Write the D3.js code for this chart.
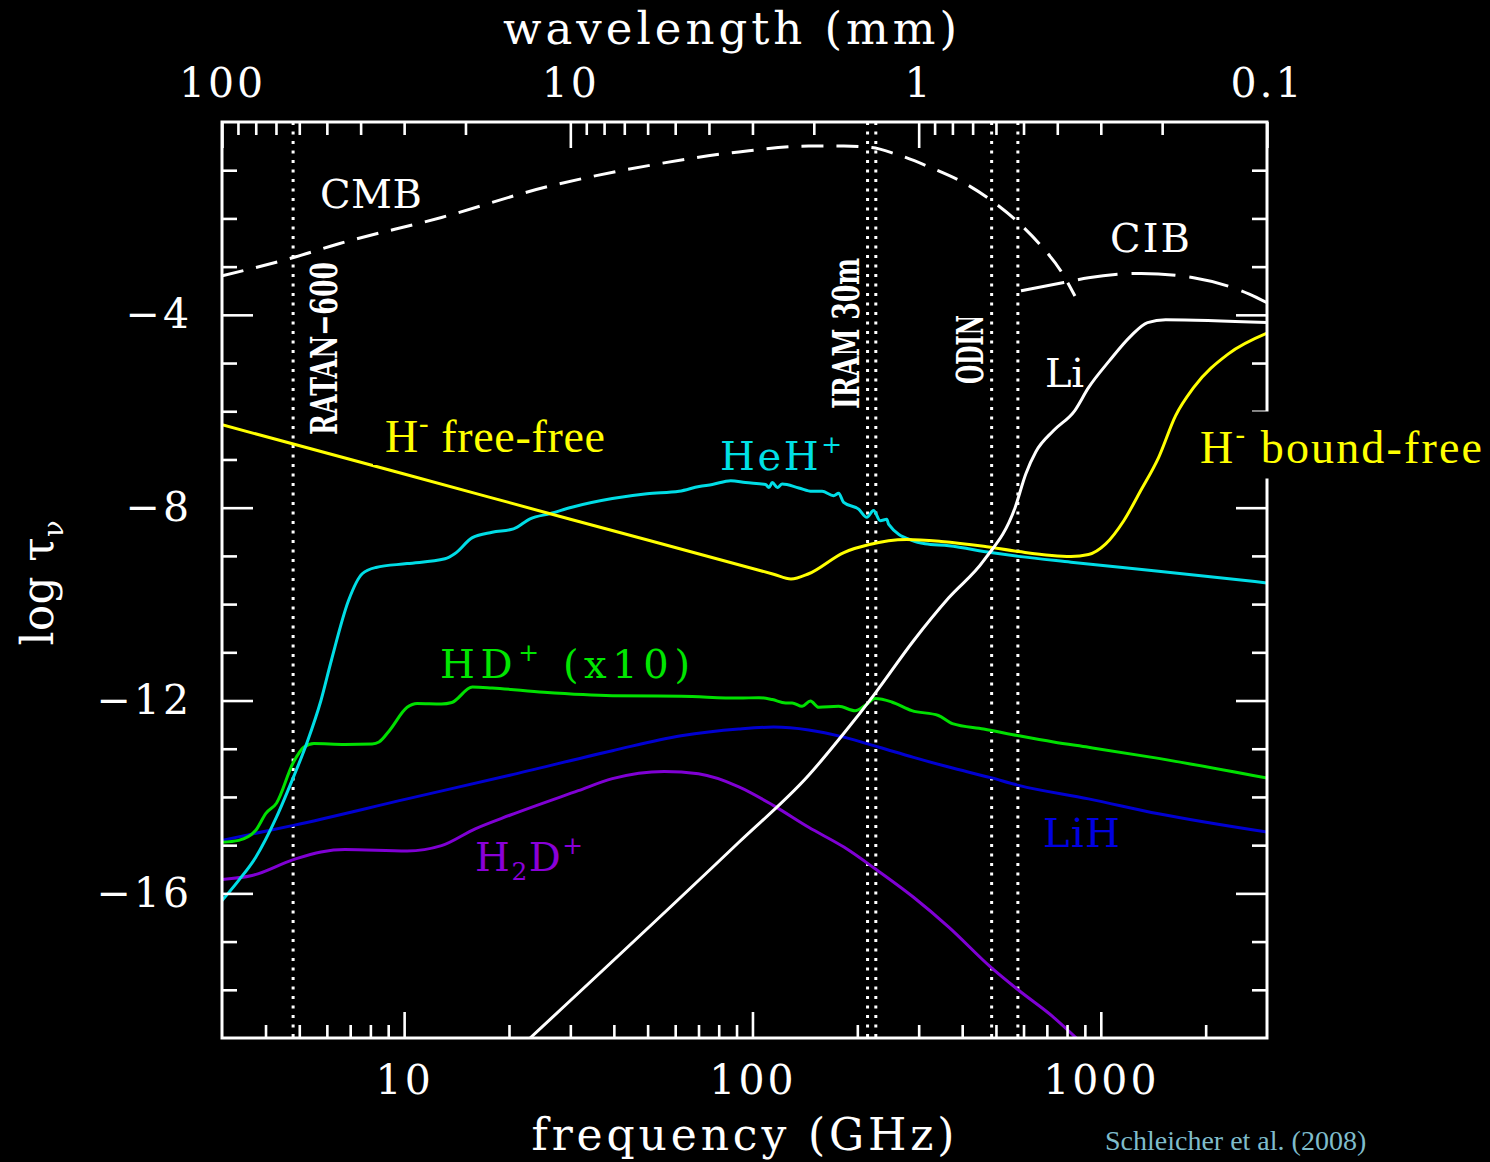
<!DOCTYPE html>
<html>
<head>
<meta charset="utf-8">
<script src="https://cdn.jsdelivr.net/npm/d3@7"></script>
<style>
  html, body { margin: 0; padding: 0; background: #000; }
  svg { display: block; }
</style>
</head>
<body>
<svg width="1490" height="1162"></svg>
<script>
// ---- data: [frequency (GHz), log tau] ----
const cmb = [[3.0,-3.19],[4.81,-2.81],[6.46,-2.53],[12.8,-1.98],[25.2,-1.36],[49.8,-0.91],[91.4,-0.62],
  [145,-0.50],[183,-0.50],[220,-0.53],[259,-0.67],[326,-0.95],[411,-1.29],[494,-1.67],[581,-2.09],
  [682,-2.61],[768,-3.09],[843,-3.61]];

const cib = [[590,-3.50],[783,-3.33],[922,-3.23],[1305,-3.14],[1846,-3.23],[2669,-3.57],[3000,-3.75]];

const hMinus = [[3.0,-6.28],[10,-7.30],[30,-8.24],[100,-9.26],[115,-9.38],[129,-9.48],[145,-9.37],
  [183,-8.93],[215,-8.77],[277,-8.66],[348,-8.70],[461,-8.80],[581,-8.91],[821,-9.01],[922,-8.97],
  [1033,-8.75],[1164,-8.27],[1301,-7.65],[1465,-6.96],[1640,-6.09],[1846,-5.51],[2324,-4.81],[3000,-4.38]];

const lithium = [[23.0,-19.0],[91.4,-14.94],[145,-13.55],[183,-12.68],[225,-11.85],[290,-10.76],
  [366,-9.87],[461,-9.10],[568,-7.99],[609,-7.30],[651,-6.84],[732,-6.40],[841,-5.99],[922,-5.51],
  [1059,-4.95],[1219,-4.44],[1362,-4.16],[1535,-4.10],[3000,-4.16]];

const hehp = [[3.0,-16.15],[3.35,-15.73],[3.75,-15.25],[4.30,-14.42],[4.81,-13.59],[5.27,-12.86],
  [5.77,-12.00],[6.18,-11.17],[6.92,-9.93],[7.58,-9.37],[8.30,-9.24],[10.2,-9.16],[13.1,-9.06],
  [14.0,-8.95],[15.7,-8.62],[17.9,-8.51],[20.6,-8.44],[23.0,-8.23],[26.3,-8.12],[30.3,-7.99],
  [39.6,-7.81],[49.8,-7.71],[61.6,-7.66],[70.3,-7.56],[76.7,-7.52],[86.6,-7.44],[95.5,-7.48],
  [109,-7.52],[111.5,-7.58],[114,-7.48],[118,-7.58],[121.7,-7.51],[135.8,-7.59],[148.3,-7.66],
  [158.4,-7.66],[171,-7.75],[176.8,-7.70],[182.7,-7.89],[201.7,-8.03],[213,-8.20],[222.6,-8.06],
  [232.7,-8.27],[243,-8.24],[245.8,-8.34],[286.7,-8.68],[313,-8.75],[366,-8.79],[483,-8.93],
  [581,-9.01],[821,-9.13],[1465,-9.32],[3000,-9.56]];

const hdp = [[3.0,-14.94],[3.35,-14.90],[3.75,-14.69],[4.01,-14.34],[4.30,-14.13],[4.81,-13.28],
  [5.15,-12.97],[5.51,-12.89],[6.76,-12.91],[8.09,-12.90],[8.47,-12.86],[9.08,-12.62],[10.2,-12.14],
  [10.9,-12.06],[12.8,-12.07],[13.7,-12.04],[15.7,-11.72],[17.9,-11.74],[25.2,-11.83],[39.6,-11.90],
  [62.4,-11.91],[91.4,-11.95],[104.4,-11.94],[114,-11.98],[124.5,-12.05],[130,-12.05],[138.8,-12.12],
  [146.7,-12.01],[155,-12.14],[176.8,-12.12],[197,-12.21],[210.8,-12.10],[225.2,-11.96],[251,-12.03],
  [286.7,-12.21],[341.8,-12.31],[375,-12.48],[461,-12.59],[581,-12.73],[732,-12.86],[922,-12.97],
  [1465,-13.20],[3000,-13.61]];

const lih = [[3.0,-14.90],[4.81,-14.59],[10.2,-14.04],[20.1,-13.55],[39.6,-13.04],[62.4,-12.73],
  [91.4,-12.59],[115,-12.55],[145,-12.61],[183,-12.76],[231,-12.97],[290,-13.18],[366,-13.38],
  [483,-13.60],[581,-13.76],[922,-14.04],[1465,-14.35],[3000,-14.73]];

const h2dp = [[3.0,-15.71],[3.66,-15.63],[4.81,-15.30],[5.77,-15.14],[6.76,-15.09],[10.2,-15.12],
  [12.8,-15.01],[16.0,-14.66],[20.1,-14.38],[31.6,-13.87],[39.6,-13.62],[55.8,-13.47],[70.0,-13.52],
  [91.4,-13.79],[115,-14.18],[145,-14.63],[183,-15.04],[225,-15.49],[290,-16.08],[366,-16.70],
  [483,-17.53],[581,-18.01],[732,-18.57],[859,-19.03]];

// telescope bands (GHz)
const ratanFreq = [4.8];
const iramFreq = [214, 226];
const odinFreq = [486, 578];

// ticks
const freqMajor = [10, 100, 1000];
const freqMinor = [4,5,6,7,8,9,20,30,40,50,60,70,80,90,200,300,400,500,600,700,800,900,2000];
const wlMajor = [100, 10, 1, 0.1];
const wlMinor = [90,80,70,60,50,40,30,20,9,8,7,6,5,4,3,2,0.9,0.8,0.7,0.6,0.5,0.4,0.3,0.2];
const tauMajor = [-4, -8, -12, -16];
const tauMinor = [-1,-2,-3,-5,-6,-7,-9,-10,-11,-13,-14,-15,-17,-18];

// ---- layout ----
const W = 1490, H = 1162;
const X0 = 222, X1 = 1267, Y0 = 122, Y1 = 1038;
const HERSHEY = "'DejaVu Serif', serif";
const BOOK = "'Liberation Serif', 'DejaVu Serif', serif";

const x = d3.scaleLog().domain([3, 3000]).range([X0, X1]);
const wl = d3.scaleLog().domain([100, 0.1]).range([X0, X1]);
const y = d3.scaleLinear().domain([-19, 0]).range([Y1, Y0]);

const svg = d3.select("svg");
svg.append("rect").attr("width", W).attr("height", H).attr("fill", "#000");

svg.append("defs").append("clipPath").attr("id", "clip")
  .append("rect").attr("x", X0).attr("y", Y0).attr("width", X1 - X0).attr("height", Y1 - Y0);

const plot = svg.append("g").attr("clip-path", "url(#clip)");

// dotted telescope lines
const bands = [...ratanFreq, ...iramFreq, ...odinFreq];
plot.selectAll("line.band").data(bands).enter().append("line")
  .attr("class", "band")
  .attr("x1", d => x(d)).attr("x2", d => x(d))
  .attr("y1", Y0).attr("y2", Y1)
  .attr("stroke", "#fff").attr("stroke-width", 3)
  .attr("stroke-dasharray", "3,6.5");

const line = d3.line()
  .x(d => x(d[0]))
  .y(d => y(d[1]))
  .curve(d3.curveMonotoneX);

const series = [
  { data: cmb, color: "#ffffff", dash: "22,13" },
  { data: cib, color: "#ffffff", dash: "44,14,40,14" },
  { data: h2dp, color: "#8000d4" },
  { data: lih, color: "#0000d0" },
  { data: hdp, color: "#00e000" },
  { data: hehp, color: "#00dde6" },
  { data: hMinus, color: "#ffff00" },
  { data: lithium, color: "#ffffff" }
];

plot.selectAll("path.curve").data(series).enter().append("path")
  .attr("class", "curve")
  .attr("d", d => line(d.data))
  .attr("fill", "none")
  .attr("stroke", d => d.color)
  .attr("stroke-width", 3)
  .attr("stroke-dasharray", d => d.dash || null)
  .attr("stroke-linejoin", "round");

// ---- axes ----
function ticks(g) {
  g.select(".domain").remove();
  g.selectAll(".tick line").attr("stroke", "#fff").attr("stroke-width", 2.6);
}

svg.append("g").attr("transform", `translate(0,${Y1})`)
  .call(d3.axisTop(x).tickValues(freqMinor).tickSize(13).tickFormat("")).call(ticks);
svg.append("g").attr("transform", `translate(0,${Y1})`)
  .call(d3.axisTop(x).tickValues(freqMajor).tickSize(26).tickFormat("")).call(ticks);
svg.append("g").attr("transform", `translate(0,${Y0})`)
  .call(d3.axisBottom(wl).tickValues(wlMinor).tickSize(13).tickFormat("")).call(ticks);
svg.append("g").attr("transform", `translate(0,${Y0})`)
  .call(d3.axisBottom(wl).tickValues(wlMajor).tickSize(26).tickFormat("")).call(ticks);
svg.append("g").attr("transform", `translate(${X0},0)`)
  .call(d3.axisRight(y).tickValues(tauMinor).tickSize(15).tickFormat("")).call(ticks);
svg.append("g").attr("transform", `translate(${X0},0)`)
  .call(d3.axisRight(y).tickValues(tauMajor).tickSize(31).tickFormat("")).call(ticks);
svg.append("g").attr("transform", `translate(${X1},0)`)
  .call(d3.axisLeft(y).tickValues(tauMinor).tickSize(15).tickFormat("")).call(ticks);
svg.append("g").attr("transform", `translate(${X1},0)`)
  .call(d3.axisLeft(y).tickValues(tauMajor).tickSize(31).tickFormat("")).call(ticks);

// frame
svg.append("rect")
  .attr("x", X0).attr("y", Y0).attr("width", X1 - X0).attr("height", Y1 - Y0)
  .attr("fill", "none").attr("stroke", "#fff").attr("stroke-width", 3);

// tick labels
function labels(g) {
  g.select(".domain").remove();
  g.selectAll("text")
    .attr("fill", "#fff")
    .style("font-family", HERSHEY)
    .style("font-size", "41px")
    .style("letter-spacing", "3px");
}
svg.append("g").attr("transform", `translate(0,${Y1})`)
  .call(d3.axisBottom(x).tickValues(freqMajor).tickSize(0).tickPadding(27).tickFormat(d3.format("d")))
  .call(labels);
svg.append("g").attr("transform", `translate(0,${Y0})`)
  .call(d3.axisTop(wl).tickValues(wlMajor).tickSize(0).tickPadding(25).tickFormat(d => d < 1 ? d3.format(".1f")(d) : d3.format("d")(d)))
  .call(labels);
svg.append("g").attr("transform", `translate(${X0},0)`)
  .call(d3.axisLeft(y).tickValues(tauMajor).tickSize(0).tickPadding(30).tickFormat(d3.format("d")))
  .call(labels);

// axis titles
svg.append("text").attr("x", 730).attr("y", 44)
  .attr("text-anchor", "middle").attr("fill", "#fff")
  .attr("textLength", 454).attr("lengthAdjust", "spacing")
  .style("font-family", HERSHEY).style("font-size", "45px")
  .text("wavelength (mm)");
svg.append("text").attr("x", 743).attr("y", 1150)
  .attr("text-anchor", "middle").attr("fill", "#fff")
  .attr("textLength", 423).attr("lengthAdjust", "spacing")
  .style("font-family", HERSHEY).style("font-size", "44px")
  .text("frequency (GHz)");

function richText(el, parts, size) {
  let cur = 0;
  parts.forEach(([s, k]) => {
    const target = k === "sup" ? -0.42 * size : k === "sub" ? 0.22 * size : 0;
    const t = el.append("tspan").attr("dy", target - cur).text(s);
    if (k) t.style("font-size", (0.62 * size) + "px");
    cur = target;
  });
}

const yTitle = svg.append("text")
  .attr("transform", "translate(53,583) rotate(-90)")
  .attr("text-anchor", "middle").attr("fill", "#fff")
  .attr("textLength", 125).attr("lengthAdjust", "spacing")
  .style("font-family", HERSHEY).style("font-size", "44px");
richText(yTitle, [["log τ"], ["ν", "sub"]], 44);

// label backgrounds (they hide parts of lines in the original)
svg.append("rect").attr("x", 373).attr("y", 416).attr("width", 240).attr("height", 49).attr("fill", "#000");
svg.append("rect").attr("x", 1198).attr("y", 411.5).attr("width", 292).attr("height", 67).attr("fill", "#000");

// curve labels
const curveLabels = [
  { parts: [["CMB"]], x: 320, y: 208, color: "#fff", font: HERSHEY, size: 40, len: 102 },
  { parts: [["CIB"]], x: 1110, y: 252, color: "#fff", font: HERSHEY, size: 40, len: 80 },
  { parts: [["Li"]], x: 1045, y: 387, color: "#fff", font: HERSHEY, size: 40, len: 39 },
  { parts: [["HeH"], ["+", "sup"]], x: 720, y: 470, color: "#00e0e6", font: HERSHEY, size: 40, len: 122 },
  { parts: [["HD"], ["+", "sup"], [" (x10)"]], x: 440, y: 678, color: "#00e600", font: HERSHEY, size: 40, len: 250 },
  { parts: [["H"], ["2", "sub"], ["D"], ["+", "sup"]], x: 475, y: 871, color: "#8a00d8", font: HERSHEY, size: 40, len: 108 },
  { parts: [["LiH"]], x: 1043, y: 847, color: "#0000e0", font: HERSHEY, size: 40, len: 77 },
  { parts: [["H"], ["-", "sup"], [" free-free"]], x: 385, y: 452, color: "#ffff00", font: BOOK, size: 46, len: 220 },
  { parts: [["H"], ["-", "sup"], [" bound-free"]], x: 1200, y: 463, color: "#ffff00", font: BOOK, size: 46, len: 282 }
];
curveLabels.forEach(l => {
  const t = svg.append("text").attr("x", l.x).attr("y", l.y)
    .attr("fill", l.color)
    .attr("textLength", l.len).attr("lengthAdjust", "spacing")
    .style("font-family", l.font).style("font-size", l.size + "px");
  richText(t, l.parts, l.size);
});

// rotated telescope labels
const scopeLabels = [
  { text: "RATAN−600", x: 337, y: 435, len: 173 },
  { text: "IRAM 30m", x: 859, y: 409, len: 151 },
  { text: "ODIN", x: 983, y: 384, len: 69 }
];
scopeLabels.forEach(l => {
  svg.append("text")
    .attr("transform", `translate(${l.x},${l.y}) rotate(-90)`)
    .attr("fill", "#fff")
    .attr("textLength", l.len).attr("lengthAdjust", "spacingAndGlyphs")
    .style("font-family", HERSHEY).style("font-weight", "bold").style("font-size", "37px")
    .text(l.text);
});

// citation in the bottom-right corner
svg.append("text").attr("x", 1105).attr("y", 1150)
  .attr("fill", "#7fbccb")
  .style("font-family", BOOK).style("font-size", "28px")
  .text("Schleicher et al. (2008)");
</script>
</body>
</html>
